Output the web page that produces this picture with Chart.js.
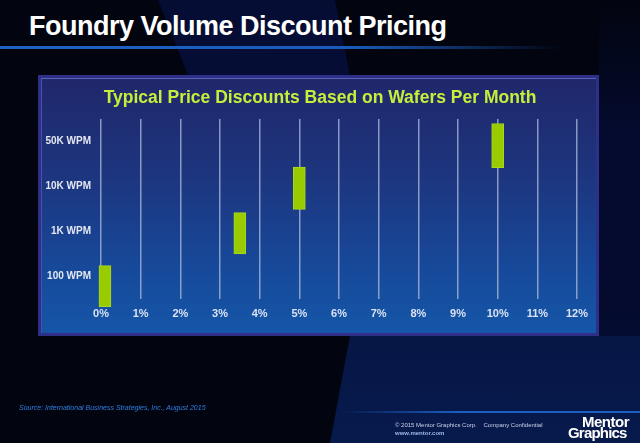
<!DOCTYPE html>
<html><head><meta charset="utf-8">
<script src="https://cdn.jsdelivr.net/npm/chart.js@4"></script>
<style>
html,body{margin:0;padding:0;background:#02040f;}
#wrap{position:relative;width:640px;height:443px;overflow:hidden;background:#02040f;font-family:"Liberation Sans",Arial,sans-serif;}
.poly{position:absolute;left:0;top:0;width:640px;height:443px;}
#bandTop{background:#050d34;clip-path:polygon(158px 0,335px 0,350px 75px,188px 75px);}
#bandRight{background:linear-gradient(180deg,rgba(4,10,44,0) 0%,#040b2e 30%,#040b2e 70%,#061442 100%);clip-path:polygon(599px 0,640px 0,640px 340px,599px 340px);}
#bandBot{background:linear-gradient(180deg,#040d32,#071a4c);clip-path:polygon(350px 336px,640px 336px,640px 443px,330px 443px);}
#titleLine{position:absolute;left:0;top:46px;width:640px;height:3px;background:linear-gradient(to right,#1e63c4 0%,#1a5ab8 55%,rgba(20,70,160,0) 88%);}
#footLine{position:absolute;left:340px;top:411px;width:300px;height:2px;background:linear-gradient(to right,rgba(30,100,200,0) 0%,#1d5fc0 40%,#1d5fc0 100%);}
#title{position:absolute;left:29px;top:10px;font-size:27px;line-height:32px;font-weight:bold;color:#fff;letter-spacing:-0.5px;white-space:nowrap;}
#panel{position:absolute;left:38px;top:75px;width:555px;height:255px;border:3px solid #2d2f88;box-shadow:inset 0 1px 0 #5a60b8, inset 1px 0 0 #4a50a8;background:linear-gradient(180deg,#20276a 0%,#1d3680 40%,#17499a 75%,#1556a8 100%);}
#source{position:absolute;left:19px;top:404px;font-size:7px;font-style:italic;color:#2f7fe0;white-space:nowrap;}
#copy{position:absolute;left:395px;top:422px;font-size:6px;color:#c8d2e8;white-space:nowrap;}
#www{position:absolute;left:395px;top:430px;font-size:6px;font-weight:bold;color:#9fb8e8;white-space:nowrap;}
#logo1{position:absolute;left:582px;top:414px;font-size:15px;line-height:15px;font-weight:bold;color:#fff;letter-spacing:-0.5px;}
#logo2{position:absolute;left:568px;top:425px;font-size:15px;line-height:15px;font-weight:bold;color:#fff;letter-spacing:-0.8px;}
#c{position:absolute;left:0;top:0;}
</style></head>
<body>
<div id="wrap">
  <div class="poly" id="bandTop"></div>
  <div class="poly" id="bandRight"></div>
  <div class="poly" id="bandBot"></div>
  <div id="titleLine"></div>
  <div id="title">Foundry Volume Discount Pricing</div>
  <div id="panel"></div>
  <canvas id="c" width="640" height="443"></canvas>
  <div id="source">Source: International Business Strategies, Inc., August 2015</div>
  <div id="footLine"></div>
  <div id="copy">© 2015 Mentor Graphics Corp.&nbsp;&nbsp;&nbsp; Company Confidential</div>
  <div id="www">www.mentor.com</div>
  <div id="logo1">Mentor</div>
  <div id="logo2">Graphics</div>
</div>
<script>
// ---- data ----
const chartTitle = 'Typical Price Discounts Based on Wafers Per Month';
const volumeLabels = ['100 WPM', '1K WPM', '10K WPM', '50K WPM']; // y categories, bottom to top
const discountTicks = [0,1,2,3,4,5,6,7,8,9,10,11,12];              // % discount ticks
const discountPct = [0.1, 3.5, 5, 10];          // bar position (% discount)
const volumeLow  = [-0.67, 0.50, 1.49, 2.42];   // bar bottom (volume category units)
const volumeHigh = [0.24, 1.42, 2.43, 3.40];    // bar top (volume category units)

const points = discountPct.map((x, i) => ({ x: x, y: [volumeLow[i], volumeHigh[i]] }));

new Chart(document.getElementById('c'), {
  type: 'bar',
  data: {
    datasets: [{
      data: points,
      backgroundColor: '#99cc00',
      borderColor: '#a9d81c',
      borderWidth: 1,
      borderSkipped: false,
      barThickness: 12,
      clip: false
    }]
  },
  options: {
    responsive: false,
    animation: false,
    events: [],
    layout: { padding: { left: 38, right: 38, top: 80, bottom: 114 } },
    plugins: {
      legend: { display: false },
      tooltip: { enabled: false },
      title: {
        display: true,
        text: chartTitle,
        color: '#c6ee3a',
        font: { family: 'Liberation Sans', size: 17.5, weight: 'bold' },
        padding: { top: 8, bottom: 10 }
      }
    },
    scales: {
      x: {
        type: 'linear',
        offset: false,
        min: 0, max: 12,
        afterBuildTicks(s) { s.ticks = discountTicks.map(v => ({ value: v })); },
        ticks: {
          callback: v => v + '%',
          color: '#dbe3f4',
          font: { family: 'Liberation Sans', size: 11, weight: 'bold' },
          padding: 8, maxRotation: 0, autoSkip: false
        },
        grid: { offset: false, color: 'rgba(165,180,215,0.8)', lineWidth: 1.5, drawTicks: false },
        border: { display: false },
        afterFit(s) { s.height = 30; }
      },
      y: {
        type: 'linear',
        min: -0.5, max: 3.5,
        afterBuildTicks(s) { s.ticks = volumeLabels.map((_, i) => ({ value: i })); },
        ticks: {
          callback: v => volumeLabels[v],
          color: '#e4e8f2',
          font: { family: 'Liberation Sans', size: 10, weight: 'bold' },
          padding: 10
        },
        grid: { display: false, drawTicks: false },
        border: { display: false },
        afterFit(s) { s.width = 63; }
      },
      yRight: {
        type: 'linear',
        position: 'right',
        min: 0, max: 1,
        ticks: { display: false },
        grid: { display: false, drawTicks: false },
        border: { display: false },
        afterFit(s) { s.width = 25; }
      }
    }
  }
});
</script>
</body></html>
